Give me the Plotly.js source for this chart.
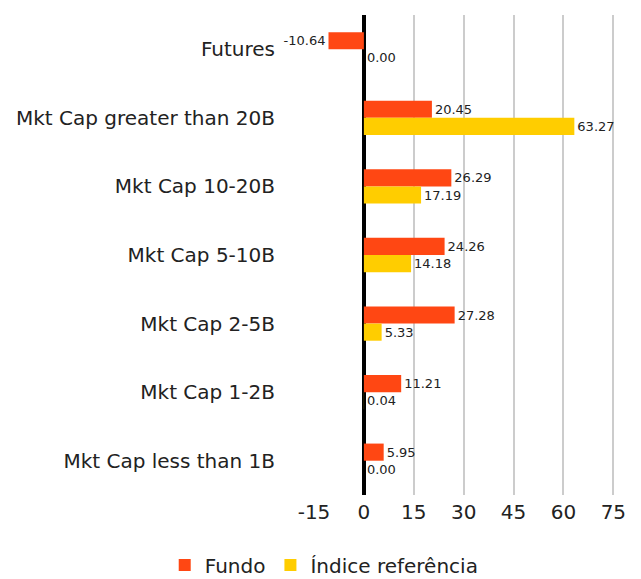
<!DOCTYPE html>
<html>
<head>
<meta charset="utf-8">
<script src="https://cdn.plot.ly/plotly-3.0.1.min.js"></script>
<style>html,body{margin:0;padding:0;background:#fff;}#chart{width:641px;height:579px;}</style>
</head>
<body>
<div id="chart"></div>
<script>
const categories = ["Futures", "Mkt Cap greater than 20B", "Mkt Cap 10-20B", "Mkt Cap 5-10B", "Mkt Cap 2-5B", "Mkt Cap 1-2B", "Mkt Cap less than 1B"];
const fundo = [-10.64, 20.45, 26.29, 24.26, 27.28, 11.21, 5.95];
const indice = [0.00, 63.27, 17.19, 14.18, 5.33, 0.04, 0.00];
const seriesNames = ["Fundo", "Índice referência"];
const xTicks = [-15, 0, 15, 30, 45, 60, 75];
const gridTicks = [15, 30, 45, 60, 75];

const FONT = "'DejaVu Sans', sans-serif";
const labelFont = {family: FONT, size: 13, color: "#222"};

const traces = [
  {type: "bar", orientation: "h", name: seriesNames[0], y: categories, x: fundo,
   marker: {color: "#ff4713"}, text: fundo.map(v => v.toFixed(2)), textposition: "outside",
   textfont: labelFont, cliponaxis: false, hoverinfo: "x+y"},
  {type: "bar", orientation: "h", name: seriesNames[1], y: categories, x: indice,
   marker: {color: "#ffcd00"}, text: indice.map(v => v.toFixed(2)), textposition: "outside",
   textfont: labelFont, cliponaxis: false, hoverinfo: "x+y"},
  {type: "scatter", x: [null], y: [null], xaxis: "x2", showlegend: false, hoverinfo: "skip"}
];

const layout = {
  width: 641, height: 579,
  margin: {l: 314, r: 16, t: 15, b: 84, autoexpand: false},
  paper_bgcolor: "#fff", plot_bgcolor: "#fff",
  font: {family: FONT, color: "#222"},
  barmode: "group", bargap: 0.5, bargroupgap: 0,
  xaxis: {range: [-15, 78.5], tickvals: xTicks, ticktext: xTicks.map(String),
          showgrid: false, zeroline: true, zerolinecolor: "#000", zerolinewidth: 4,
          tickfont: {family: FONT, size: 20, color: "#222"}, ticks: "", ticklabelstandoff: 3,
          fixedrange: true},
  xaxis2: {overlaying: "x", range: [-15, 78.5], tickvals: gridTicks, showticklabels: false,
           showgrid: true, gridcolor: "#cccccc", gridwidth: 2, zeroline: false, side: "bottom"},
  yaxis: {autorange: "reversed", showgrid: false, zeroline: false, ticks: "",
          tickfont: {family: FONT, size: 20, color: "#222"}, ticklabelstandoff: 38},
  showlegend: true,
  legend: {orientation: "h", x: -0.48, xanchor: "left", y: -0.146, yanchor: "middle",
           font: {family: FONT, size: 20, color: "#222"}, itemwidth: 30, traceorder: "normal"}
};

Plotly.newPlot("chart", traces, layout, {displayModeBar: false, staticPlot: true});
</script>
</body>
</html>
